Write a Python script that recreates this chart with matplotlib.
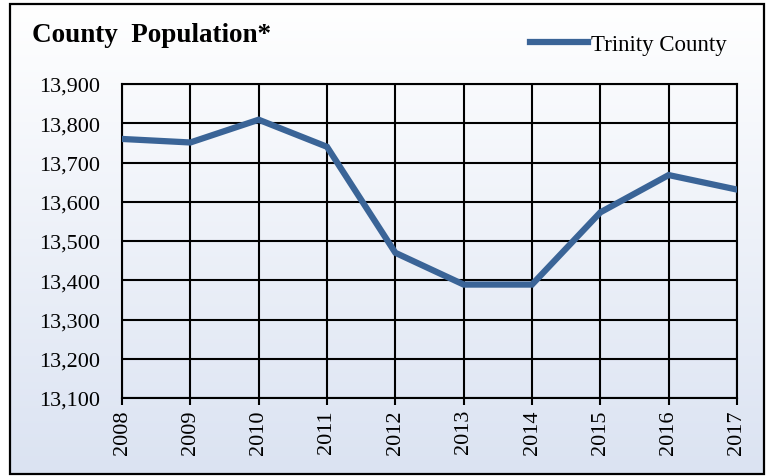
import numpy as np
import matplotlib.pyplot as plt
from matplotlib.patches import Rectangle
from matplotlib.ticker import FuncFormatter

plt.rcParams['font.family'] = ['Liberation Serif', 'DejaVu Serif']

years = ['2008', '2009', '2010', '2011', '2012', '2013', '2014', '2015', '2016', '2017']
population = [13760, 13751, 13809, 13740, 13470, 13389, 13389, 13573, 13668, 13631]
series_name = 'Trinity County'
title = 'County  Population*'

line_color = '#3a6497'

fig = plt.figure(figsize=(7.7, 4.77), dpi=100)

# gradient background inside the chart frame
bg = fig.add_axes([0, 0, 1, 1], zorder=0)
bg.set_xlim(0, 770)
bg.set_ylim(477, 0)
bg.axis('off')
grad = np.linspace(0, 1, 256).reshape(-1, 1)
top = np.array([1.0, 1.0, 1.0])
bot = np.array([0xdb, 0xe3, 0xf2]) / 255.0
img = top + grad[:, :, None] * (bot - top)
img = img.reshape(256, 1, 3)
bg.imshow(img, extent=(10, 764, 475, 5), aspect='auto', interpolation='bilinear')
bg.add_patch(Rectangle((10, 5), 754, 470, fill=False, ec='black', lw=1.6))

ax = fig.add_axes([122 / 770, 1 - 399 / 477, (737 - 122) / 770, (399 - 85) / 477], zorder=1)
ax.patch.set_alpha(0)
x = np.arange(len(years))
ax.plot(x, population, color=line_color, lw=4.5, solid_joinstyle='miter', label=series_name, zorder=3)

ax.set_xlim(0, len(years) - 1)
ax.set_ylim(13100, 13900)
ax.set_yticks(np.arange(13100, 13901, 100))
ax.yaxis.set_major_formatter(FuncFormatter(lambda v, p: '{:,.0f}'.format(v)))
ax.set_xticks(x)
ax.set_xticklabels(years, rotation=90)
ax.tick_params(axis='y', length=0, pad=16, labelsize=16)
ax.tick_params(axis='x', length=5, width=1.5, pad=3, labelsize=16)
ax.grid(True, color='black', lw=1.5)
for s in ax.spines.values():
    s.set_color('black')
    s.set_linewidth(1.5)

fig.text(32 / 770, 1 - 36 / 477, title, fontsize=19.5, fontweight='bold', va='center', ha='left')
fig.legend(loc='center right', bbox_to_anchor=(736 / 770, 1 - 45 / 477), frameon=False,
           fontsize=16.5, handlelength=2.5, handletextpad=0.15, borderaxespad=0)

fig.savefig('out.png', dpi=100)
